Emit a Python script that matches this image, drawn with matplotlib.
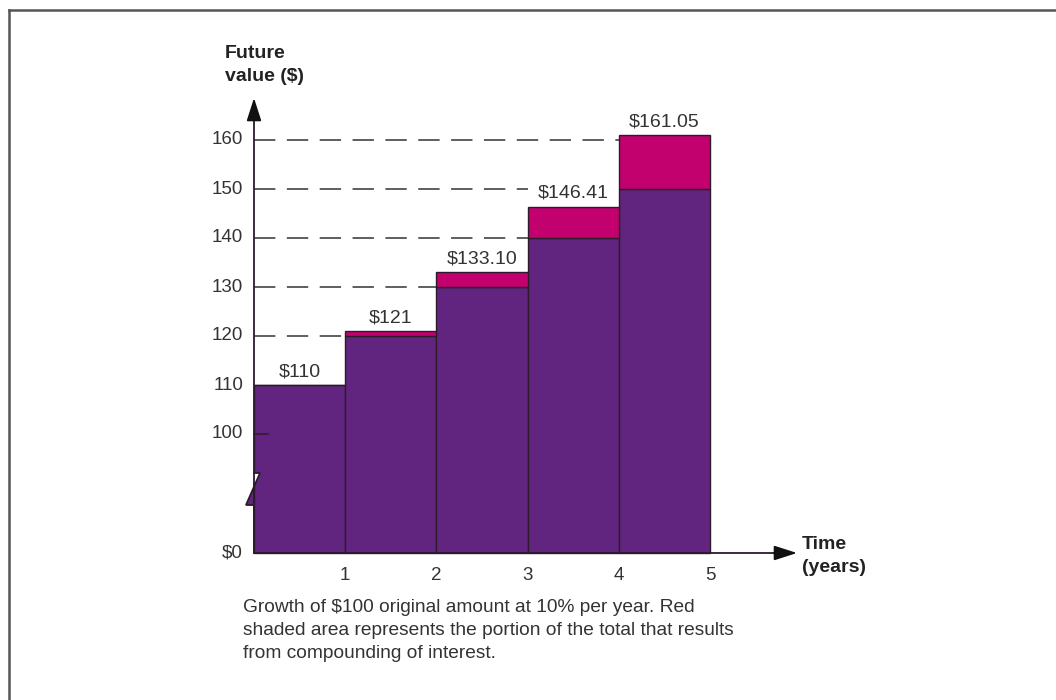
import numpy as np
import matplotlib.pyplot as plt
from matplotlib.lines import Line2D

plt.rcParams['font.family'] = ['Liberation Sans', 'DejaVu Sans']

years = np.array([1, 2, 3, 4, 5])
simple_value = np.array([110, 120, 130, 140, 150])
future_value = np.array([110, 121, 133.10, 146.41, 161.05])
value_labels = ["$110", "$121", "$133.10", "$146.41", "$161.05"]
ytick_values = [100, 110, 120, 130, 140, 150, 160]
guide_values = [120, 130, 140, 150, 160]
guide_ends = [1, 2, 3, 3, 4]
caption = ("Growth of $100 original amount at 10% per year. Red\n"
           "shaded area represents the portion of the total that results\n"
           "from compounding of interest.")

purple = "#62257f"
magenta = "#c2006e"
edge = "#2b1b2b"
text_col = "#333333"

# broken axis: values from ~90 up are shifted down so 100 sits just above 0
shift = 100 - 119 / 4.9


def ty(v):
    v = np.asarray(v, dtype=float)
    return np.where(v > 0, v - shift, 0.0)


fig = plt.figure(figsize=(10.56, 7), dpi=100)
ax = fig.add_axes([0, 0, 1, 1])
ax.set_xlim(-254 / 91.2, (1056 - 254) / 91.2)
ax.set_ylim(-(700 - 553) / 4.9, 553 / 4.9)
ax.axis('off')

# bars
ax.bar(years - 1, ty(simple_value), width=1, align='edge', color=purple,
       edgecolor=edge, linewidth=1, zorder=2)
ax.bar(years - 1, future_value - simple_value, bottom=ty(simple_value), width=1,
       align='edge', color=magenta, edgecolor=edge, linewidth=1, zorder=2)

for x, v, lab in zip(years, future_value, value_labels):
    ax.text(x - 0.5, ty(v) + 2.7, lab, ha='center', va='center',
            fontsize=14, color=text_col)

# dashed guides
for v, xe in zip(guide_values, guide_ends):
    ax.plot([0, xe], [ty(v), ty(v)], color=text_col, lw=1.1,
            dashes=(14, 7.5), dash_capstyle='butt', zorder=1)

ax.plot([0, 0.15], [ty(100), ty(100)], color=edge, lw=1.1, zorder=3)

# y tick labels
for v in ytick_values:
    ax.text(-0.12, ty(v), str(v), ha='right', va='center', fontsize=13.5,
            color=text_col)
ax.text(-0.12, 0, "$0", ha='right', va='center', fontsize=13.5, color=text_col)

for x in years:
    ax.text(x, -4.5, str(x), ha='center', va='center', fontsize=13.5,
            color=text_col)

# axis break and arrows
y_break_top = (553 - 473) / 4.9
y_break_bot = (553 - 505) / 4.9
dx_r = 6 / 91.2
dx_l = 8 / 91.2
ycross = y_break_top - (y_break_top - y_break_bot) * (dx_r / (dx_r + dx_l))
ax.fill([0, dx_r, 0], [y_break_top, y_break_top, ycross], color='white',
        zorder=3, lw=0)
ax.fill([-dx_l, 0, 0], [y_break_bot, y_break_bot, ycross], color=purple,
        zorder=3, lw=0)
ax.plot([0, 0, dx_r, -dx_l, 0, 0],
        [0, y_break_top, y_break_top, y_break_bot, y_break_bot, 0],
        color=edge, lw=1.3, zorder=4, solid_joinstyle='miter')
ax.plot([0, 0], [y_break_top, 90], color=edge, lw=1.3, zorder=4)
ax.annotate("", xy=(0, (553 - 98) / 4.9), xytext=(0, 89),
            arrowprops=dict(arrowstyle='-|>,head_length=1.4,head_width=0.45',
                            color='#111111', lw=1.3, shrinkA=0, shrinkB=0),
            zorder=5)
ax.plot([0, 5.8], [0, 0], color=edge, lw=1.3, zorder=4)
ax.annotate("", xy=((797 - 254) / 91.2, 0), xytext=(5.7, 0),
            arrowprops=dict(arrowstyle='-|>,head_length=1.4,head_width=0.45',
                            color='#111111', lw=1.3, shrinkA=0, shrinkB=0),
            zorder=5)

ax.text((225 - 254) / 91.2, (553 - 45) / 4.9, "Future\nvalue ($)", ha='left',
        va='top', fontsize=14, fontweight='bold', color='#222222',
        linespacing=1.45)
ax.text((802 - 254) / 91.2, (553 - 536) / 4.9, "Time\n(years)", ha='left',
        va='top', fontsize=14, fontweight='bold', color='#222222',
        linespacing=1.45)

ax.text((243 - 254) / 91.2, (553 - 599) / 4.9, caption, ha='left', va='top',
        fontsize=13.8, color=text_col, linespacing=1.45)

# frame
fig.add_artist(Line2D([9 / 1056, 1], [1 - 10 / 700, 1 - 10 / 700],
                      color='#555555', lw=1.8))
fig.add_artist(Line2D([9 / 1056, 9 / 1056], [0, 1 - 10 / 700],
                      color='#555555', lw=1.8))

fig.savefig("out.png", dpi=100)
